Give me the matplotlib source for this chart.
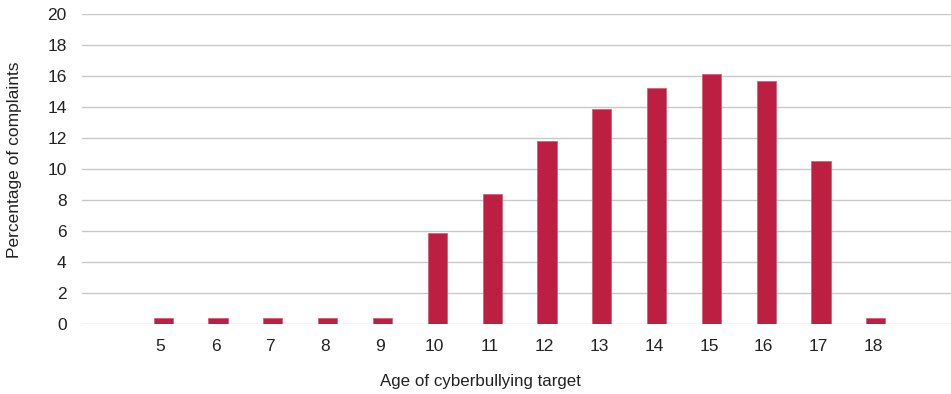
import matplotlib.pyplot as plt
import matplotlib.transforms as mtransforms

ages = [5, 6, 7, 8, 9, 10, 11, 12, 13, 14, 15, 16, 17, 18]
percent = [0.4, 0.4, 0.4, 0.4, 0.4, 5.9, 8.4, 11.8, 13.9, 15.2, 16.1, 15.7, 10.5, 0.4]

plt.rcParams['font.family'] = ['Liberation Sans', 'DejaVu Sans']

fig = plt.figure(figsize=(9.51, 3.94), dpi=100)
ax = fig.add_axes([82 / 951, (394 - 324) / 394, 1 - 82 / 951, 310 / 394])

ax.bar(ages, percent, width=0.35, color='#BC1F42', edgecolor='#D4607A', linewidth=0.6, zorder=3)

ax.set_ylim(0, 20)
ax.set_yticks(range(0, 21, 2))
ax.set_xlim(3.52, 19.37)
ax.set_xticks(ages)
ax.yaxis.grid(True, color='#C8C8C8', linewidth=1.0, zorder=0)
for s in ax.spines.values():
    s.set_visible(False)
ax.tick_params(axis='both', length=0, labelsize=12.5, colors='#222222')
ax.tick_params(axis='y', pad=11)
ax.tick_params(axis='x', pad=11)

# category labels sit a little left of the bars in the original
shift = mtransforms.ScaledTranslation(-2.5 / 100, 0, fig.dpi_scale_trans)
for lbl in ax.get_xticklabels():
    lbl.set_transform(lbl.get_transform() + shift)

ax.set_xlabel('Age of cyberbullying target', fontsize=12.2, color='#222222')
ax.set_ylabel('Percentage of complaints', fontsize=12.5, color='#222222')
ax.xaxis.set_label_coords(0.458, -0.16)
ax.yaxis.set_label_coords(-0.069, 0.53)

fig.savefig('out.png', dpi=100)
